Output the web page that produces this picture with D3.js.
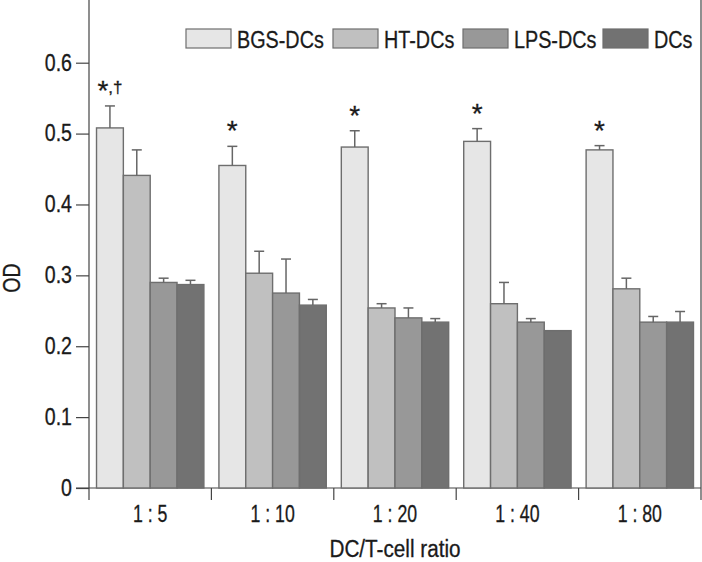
<!DOCTYPE html>
<html><head><meta charset="utf-8">
<script src="https://cdn.jsdelivr.net/npm/d3@7"></script>
<style>
body{margin:0;background:#fff}
svg text{font-family:"Liberation Sans",Arial,sans-serif;fill:#1a1a1a;stroke:#1a1a1a;stroke-width:0.3px}
</style></head><body>
<svg id="c" width="702" height="562"></svg>
<script>
const categories = ["1 : 5","1 : 10","1 : 20","1 : 40","1 : 80"];
const seriesNames = ["BGS-DCs","HT-DCs","LPS-DCs","DCs"];
const seriesColors = ["#e6e6e6","#c0c0c0","#989898","#727272"];
const bgsValues = [0.508,0.455,0.481,0.489,0.477];
const bgsErrors = [0.031,0.027,0.023,0.018,0.006];
const htValues  = [0.441,0.303,0.254,0.260,0.281];
const htErrors  = [0.036,0.031,0.006,0.030,0.015];
const lpsValues = [0.290,0.275,0.240,0.234,0.234];
const lpsErrors = [0.006,0.048,0.014,0.005,0.008];
const dcValues  = [0.287,0.258,0.234,0.222,0.234];
const dcErrors  = [0.006,0.008,0.005,0.000,0.015];
const sigMarks  = ["*,†","*","*","*","*"];
const yTicks = [0,0.1,0.2,0.3,0.4,0.5,0.6];
const yTickLabels = ["0","0.1","0.2","0.3","0.4","0.5","0.6"];

const values = [bgsValues, htValues, lpsValues, dcValues];
const errors = [bgsErrors, htErrors, lpsErrors, dcErrors];

const svg = d3.select("#c");
const left = 89, right = 701, base = 488;
const y = d3.scaleLinear().domain([0,0.6]).range([base,62.7]);
const x = d3.scaleBand().domain(categories).range([left,right]).paddingInner(0).paddingOuter(0);
const xs = d3.scaleBand().domain(seriesNames).range([0,x.bandwidth()]).paddingInner(0).paddingOuter(0.28);

function condense(sel, f){
  sel.each(function(){
    const w = this.getComputedTextLength();
    if (w > 0) {
      this.setAttribute("textLength", (w*f).toFixed(1));
      this.setAttribute("lengthAdjust","spacingAndGlyphs");
    }
  });
}

// frame
const frame = "#444";
svg.append("line").attr("x1",left).attr("x2",left).attr("y1",0).attr("y2",500).attr("stroke",frame).attr("stroke-width",1.2);
svg.append("line").attr("x1",right).attr("x2",right).attr("y1",0).attr("y2",500).attr("stroke",frame).attr("stroke-width",1.2);

// y axis
const ya = svg.append("g").attr("transform",`translate(${left},0)`)
  .call(d3.axisLeft(y).tickValues(yTicks).tickFormat((d,i)=>yTickLabels[i]).tickSize(13).tickPadding(4));
ya.select(".domain").remove();
ya.selectAll(".tick line").attr("stroke",frame).attr("stroke-width",1.2);
ya.selectAll(".tick text").style("font-size","23px").attr("fill","#1a1a1a");
condense(ya.selectAll(".tick text"), 0.85);

// x axis
const xa = svg.append("g").attr("transform",`translate(0,${base})`)
  .call(d3.axisBottom(x).tickSize(0).tickPadding(18));
xa.select(".domain").remove();
xa.selectAll(".tick text").style("font-size","23px").attr("fill","#1a1a1a").attr("dy",null).attr("y",34);
condense(xa.selectAll(".tick text"), 0.77);
svg.append("line").attr("x1",left-13).attr("x2",right).attr("y1",base).attr("y2",base).attr("stroke",frame).attr("stroke-width",1.2);
svg.append("g").selectAll("line").data(categories.slice(1)).join("line")
  .attr("x1",d=>x(d)).attr("x2",d=>x(d)).attr("y1",base).attr("y2",500)
  .attr("stroke",frame).attr("stroke-width",1.2);

// bars
const groups = svg.append("g").selectAll("g").data(categories).join("g")
  .attr("transform",d=>`translate(${x(d)},0)`);
seriesNames.forEach((s,si)=>{
  groups.append("rect")
    .attr("x",xs(s)).attr("width",xs.bandwidth())
    .attr("y",(d,ci)=>y(values[si][ci])).attr("height",(d,ci)=>base-y(values[si][ci]))
    .attr("fill",seriesColors[si]).attr("stroke","#6e6e6e").attr("stroke-width",1.4);
  const eb = groups.append("g").attr("stroke","#666").attr("stroke-width",1.5);
  eb.append("line").attr("x1",xs(s)+xs.bandwidth()/2).attr("x2",xs(s)+xs.bandwidth()/2)
    .attr("y1",(d,ci)=>y(values[si][ci])).attr("y2",(d,ci)=>y(values[si][ci]+errors[si][ci]))
    .attr("display",(d,ci)=>errors[si][ci]>0?null:"none");
  eb.append("line").attr("x1",xs(s)+xs.bandwidth()/2-5).attr("x2",xs(s)+xs.bandwidth()/2+5)
    .attr("y1",(d,ci)=>y(values[si][ci]+errors[si][ci])).attr("y2",(d,ci)=>y(values[si][ci]+errors[si][ci]))
    .attr("display",(d,ci)=>errors[si][ci]>0?null:"none");
});
const sig = groups.append("text")
  .attr("x",xs(seriesNames[0])+xs.bandwidth()/2)
  .attr("y",(d,ci)=>y(bgsValues[ci]+bgsErrors[ci])-6)
  .attr("text-anchor","middle").style("font-size","28px").style("fill","#1a1a1a");
sig.each(function(d,ci){
  const parts = sigMarks[ci].split(",");
  const t = d3.select(this);
  t.append("tspan").text(parts[0]);
  if (parts.length > 1) {
    t.append("tspan").style("font-size","17px").attr("dy",-7).text("," + parts.slice(1).join(","));
  }
});

// axis titles
const xt = svg.append("text").attr("x",(left+right)/2).attr("y",557).attr("text-anchor","middle")
  .style("font-size","23px").text("DC/T-cell ratio");
condense(xt, 0.9);
const yt = svg.append("text").attr("transform","translate(20,278) rotate(-90)").attr("text-anchor","middle")
  .style("font-size","23px").text("OD");
condense(yt, 0.85);

// legend
const legX = [186,333,463,603];
const leg = svg.append("g").selectAll("g").data(seriesNames).join("g")
  .attr("transform",(d,i)=>`translate(${legX[i]},29)`);
leg.append("rect").attr("width",45).attr("height",19).attr("fill",(d,i)=>seriesColors[i])
  .attr("stroke","#6e6e6e").attr("stroke-width",1.2);
const lt = leg.append("text").attr("x",51).attr("y",18.5).style("font-size","23px").text(d=>d);
condense(lt, 0.86);
</script>
</body></html>
